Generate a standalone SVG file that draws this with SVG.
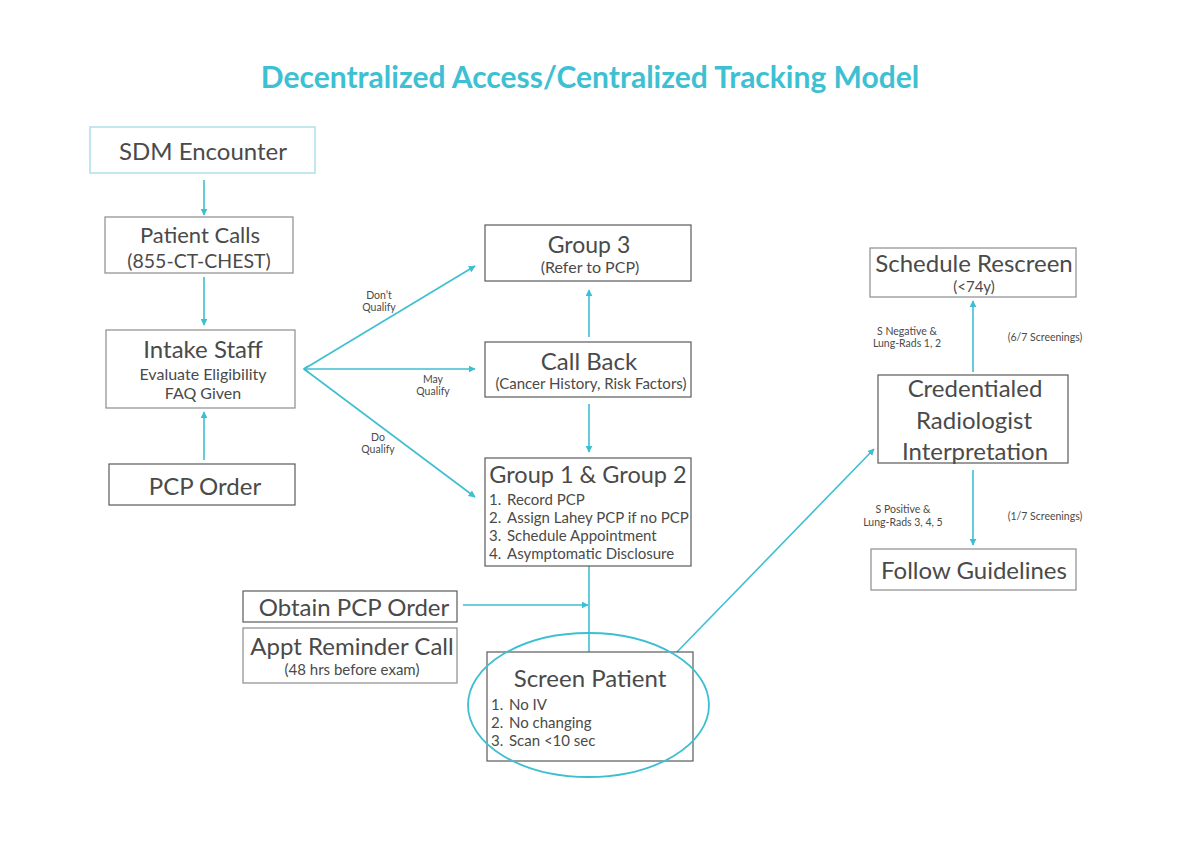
<svg xmlns="http://www.w3.org/2000/svg" width="1180" height="850" viewBox="0 0 1180 850">
<defs>
<marker id="ah" viewBox="0 0 10 10" refX="9" refY="5" markerWidth="7" markerHeight="7" markerUnits="userSpaceOnUse" orient="auto">
<path d="M0,0 L10,5 L0,10 z" fill="#3dbfd2"/>
</marker>
</defs>
<style>
text{font-family:Lato,"Open Sans","Liberation Sans",sans-serif;fill:#4a4a4a}
.box{fill:#fff;stroke:#8c8c8c;stroke-width:1.2}
.dk{stroke:#5a5a5a}
.big{font-size:24px;text-anchor:middle}
.mid{font-size:15px;text-anchor:middle}
.it{font-size:15px}
.sm{font-size:10.5px;text-anchor:middle}
.c{stroke:#3dbfd2;stroke-width:1.6;fill:none}
.a{marker-end:url(#ah)}
</style>
<rect width="1180" height="850" fill="#fff"/>
<text x="590" y="88" text-anchor="middle" style="font-size:30px;font-weight:bold;fill:#3ec0d3">Decentralized Access/Centralized Tracking Model</text>

<g id="connectors">
<line class="c a" x1="204" y1="180" x2="204" y2="215"/>
<line class="c a" x1="204" y1="277" x2="204" y2="325"/>
<line class="c a" x1="204" y1="460" x2="204" y2="412"/>
<line class="c a" x1="304" y1="369" x2="475" y2="266"/>
<line class="c a" x1="304" y1="369" x2="475" y2="369"/>
<line class="c a" x1="304" y1="369" x2="475" y2="497"/>
<path class="c" d="M308,366 L304,369 L308,372"/>
<line class="c a" x1="589" y1="337" x2="589" y2="290"/>
<line class="c a" x1="589" y1="404" x2="589" y2="452"/>
<line class="c" x1="589" y1="566" x2="589" y2="652"/>
<line class="c a" x1="463" y1="605" x2="588" y2="605"/>
<line class="c a" x1="676" y1="653" x2="874" y2="449"/>
<line class="c a" x1="973" y1="372" x2="973" y2="301"/>
<line class="c a" x1="973" y1="470" x2="973" y2="545"/>
<text class="sm" x="379" y="299">Don’t</text>
<text class="sm" x="379" y="311">Qualify</text>
<text class="sm" x="433" y="383">May</text>
<text class="sm" x="433" y="395">Qualify</text>
<text class="sm" x="378" y="441">Do</text>
<text class="sm" x="378" y="453">Qualify</text>
<text class="sm" x="907" y="335">S Negative &amp;</text>
<text class="sm" x="907" y="347">Lung-Rads 1, 2</text>
<text class="sm" x="1045" y="341">(6/7 Screenings)</text>
<text class="sm" x="903" y="513">S Positive &amp;</text>
<text class="sm" x="903" y="526">Lung-Rads 3, 4, 5</text>
<text class="sm" x="1045" y="520">(1/7 Screenings)</text>
</g>

<g id="sdm">
<rect x="90" y="127" width="225" height="46" fill="#fff" stroke="#a9dfe6" stroke-width="1.4"/>
<text class="big" x="203" y="160">SDM Encounter</text>
</g>
<g id="patient-calls">
<rect class="box" x="105" y="217" width="188" height="56"/>
<text class="mid" x="200" y="243" style="font-size:22px">Patient Calls</text>
<text class="mid" x="199" y="268" style="font-size:19.5px">(855-CT-CHEST)</text>
</g>
<g id="intake">
<rect class="box" x="106" y="330" width="189" height="78"/>
<text class="big" x="203" y="358">Intake Staff</text>
<text class="mid" x="203" y="380" style="font-size:16px">Evaluate Eligibility</text>
<text class="mid" x="203" y="399" style="font-size:16px">FAQ Given</text>
</g>
<g id="pcp-order">
<rect class="box dk" x="109" y="464" width="186" height="41"/>
<text class="big" x="205" y="495">PCP Order</text>
</g>
<g id="group3">
<rect class="box dk" x="485" y="225" width="206" height="56"/>
<text class="mid" x="589" y="253" style="font-size:23px">Group 3</text>
<text class="mid" x="590" y="273" style="font-size:16px">(Refer to PCP)</text>
</g>
<g id="callback">
<rect class="box dk" x="485" y="342" width="206" height="55"/>
<text class="big" x="589" y="370">Call Back</text>
<text class="mid" x="591" y="389">(Cancer History, Risk Factors)</text>
</g>
<g id="group12">
<rect class="box dk" x="485" y="458" width="206" height="108"/>
<text class="big" x="588" y="483" style="font-size:23.5px">Group 1 &amp; Group 2</text>
<text class="it" x="489" y="505">1.</text><text class="it" x="507" y="505">Record PCP</text>
<text class="it" x="489" y="523">2.</text><text class="it" x="507" y="523">Assign Lahey PCP if no PCP</text>
<text class="it" x="489" y="541">3.</text><text class="it" x="507" y="541">Schedule Appointment</text>
<text class="it" x="489" y="559">4.</text><text class="it" x="507" y="559">Asymptomatic Disclosure</text>
</g>
<g id="obtain">
<rect class="box dk" x="243" y="591" width="214" height="31"/>
<text class="big" x="354" y="616" style="font-size:24px">Obtain PCP Order</text>
</g>
<g id="reminder">
<rect class="box" x="243" y="628" width="214" height="55"/>
<text class="big" x="352" y="655">Appt Reminder Call</text>
<text class="mid" x="352" y="675">(48 hrs before exam)</text>
</g>
<g id="screen">
<rect class="box dk" x="487" y="652" width="206" height="109"/>
<text class="big" x="590" y="687">Screen Patient</text>
<text class="it" x="491" y="710">1.</text><text class="it" x="509" y="710">No IV</text>
<text class="it" x="491" y="728">2.</text><text class="it" x="509" y="728">No changing</text>
<text class="it" x="491" y="746">3.</text><text class="it" x="509" y="746">Scan &lt;10 sec</text>
<ellipse cx="588.5" cy="705" rx="120.5" ry="72" fill="none" stroke="#3dbfd2" stroke-width="1.8"/>
</g>
<g id="radiologist">
<rect class="box dk" x="878" y="375" width="190" height="88"/>
<text class="big" x="975" y="397">Credentialed</text>
<text class="big" x="974" y="429">Radiologist</text>
<text class="big" x="975" y="460">Interpretation</text>
</g>
<g id="rescreen">
<rect class="box" x="870" y="248" width="206" height="49"/>
<text class="big" x="974" y="272">Schedule Rescreen</text>
<text class="mid" x="974" y="292">(&lt;74y)</text>
</g>
<g id="guidelines">
<rect class="box" x="871" y="549" width="205" height="41"/>
<text class="big" x="974" y="579">Follow Guidelines</text>
</g>
</svg>
